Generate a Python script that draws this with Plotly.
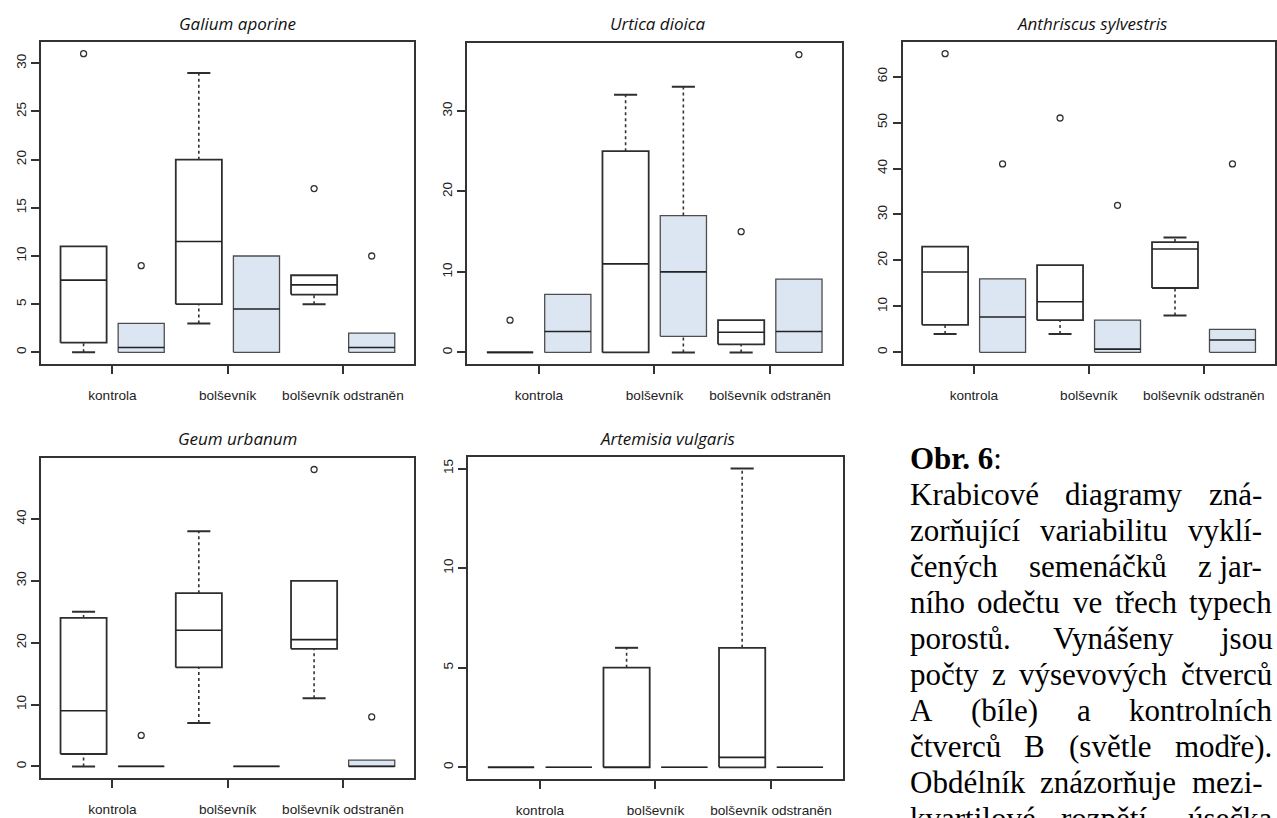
import plotly.graph_objects as go

FIG_W, FIG_H = 1277, 818

# ---------------- data ----------------
categories = ["kontrola", "bolševník", "bolševník odstraněn"]
species = ["Galium aporine", "Urtica dioica", "Anthriscus sylvestris",
           "Geum urbanum", "Artemisia vulgaris"]
# six boxes per panel: kontrola A, kontrola B, bolševník A, bolševník B, odstraněn A, odstraněn B
box_pos = [1, 2, 3, 4, 5, 6]
cat_pos = [1.5, 3.5, 5.5]
square_type = ["A", "B", "A", "B", "A", "B"]

galium_low = [0, 0, 3, 0, 5, 0]
galium_q1 = [1, 0, 5, 0, 6, 0]
galium_med = [7.5, 0.5, 11.5, 4.5, 7, 0.5]
galium_q3 = [11, 3, 20, 10, 8, 2]
galium_high = [11, 3, 29, 10, 8, 2]
galium_out = [[31], [9], [], [], [17], [10]]

urtica_low = [0, 0, 0, 0, 0, 0]
urtica_q1 = [0, 0, 0, 2, 1, 0]
urtica_med = [0, 2.6, 11, 10, 2.5, 2.6]
urtica_q3 = [0, 7.2, 25, 17, 4, 9.1]
urtica_high = [0, 7.2, 32, 33, 4, 9.1]
urtica_out = [[4], [], [], [], [15], [37]]

anthriscus_low = [4, 0, 4, 0, 8, 0]
anthriscus_q1 = [6, 0, 7, 0, 14, 0]
anthriscus_med = [17.5, 7.7, 11, 0.7, 22.5, 2.7]
anthriscus_q3 = [23, 16, 19, 7, 24, 5]
anthriscus_high = [23, 16, 19, 7, 25, 5]
anthriscus_out = [[65], [41], [51], [32], [], [41]]

geum_low = [0, 0, 7, 0, 11, 0]
geum_q1 = [2, 0, 16, 0, 19, 0]
geum_med = [9, 0, 22, 0, 20.5, 0]
geum_q3 = [24, 0, 28, 0, 30, 1]
geum_high = [25, 0, 38, 0, 30, 1]
geum_out = [[], [5], [], [], [48], [8]]

artemisia_low = [0, 0, 0, 0, 0, 0]
artemisia_q1 = [0, 0, 0, 0, 0, 0]
artemisia_med = [0, 0, 0, 0, 0.5, 0]
artemisia_q3 = [0, 0, 5, 0, 6, 0]
artemisia_high = [0, 0, 6, 0, 15, 0]
artemisia_out = [[], [], [], [], [], []]

y_tick_step = [5, 10, 10, 10, 5]

caption_head = "<b>Obr. 6</b>:"
caption_lines = [
    "Krabicové diagramy zná-",
    "zorňující variabilitu vyklí-",
    "čených semenáčků z\u00a0jar-",
    "ního odečtu ve třech typech",
    "porostů. Vynášeny jsou",
    "počty z výsevových čtverců",
    "A (bíle) a kontrolních",
    "čtverců B (světle modře).",
    "Obdélník znázorňuje mezi-",
    "kvartilové rozpětí, úsečka",
]

panels = [
    (galium_low, galium_q1, galium_med, galium_q3, galium_high, galium_out),
    (urtica_low, urtica_q1, urtica_med, urtica_q3, urtica_high, urtica_out),
    (anthriscus_low, anthriscus_q1, anthriscus_med, anthriscus_q3, anthriscus_high, anthriscus_out),
    (geum_low, geum_q1, geum_med, geum_q3, geum_high, geum_out),
    (artemisia_low, artemisia_q1, artemisia_med, artemisia_q3, artemisia_high, artemisia_out),
]

# ---------------- layout geometry (pixels) ----------------
frames = [  # x0, x1, y_top, y_bottom
    (41, 415, 42, 367),
    (468, 843, 43, 367),
    (904, 1277, 42, 367),
    (41, 415, 461, 784),
    (469, 844, 460, 785),
]
title_xy = [(238, 24), (659, 24), (1094, 24), (238, 442), (669, 442)]

FILL = {"A": "#ffffff", "B": "#dce6f2"}
EDGE = {"A": "#2e2e2e", "B": "#4d4d4d"}
EDGE_W = {"A": 1.8, "B": 1.3}
BOX_HALF = 0.4
STAPLE_HALF = 0.2

fig = go.Figure()


def px_x(p):
    return p / FIG_W


def px_y(p):
    return 1 - p / FIG_H


for k, (low, q1, med, q3, high, out) in enumerate(panels):
    sfx = "" if k == 0 else str(k + 1)
    xa, ya = "x" + sfx, "y" + sfx
    for i, pos in enumerate(box_pos):
        t = square_type[i]
        ec, ew = EDGE[t], EDGE_W[t]
        # box body
        fig.add_trace(go.Scatter(
            x=[pos - BOX_HALF, pos + BOX_HALF, pos + BOX_HALF, pos - BOX_HALF, pos - BOX_HALF],
            y=[q1[i], q1[i], q3[i], q3[i], q1[i]],
            mode="lines", fill="toself", fillcolor=FILL[t],
            line=dict(color=ec, width=ew), xaxis=xa, yaxis=ya,
            showlegend=False, hoverinfo="skip"))
        # median
        fig.add_trace(go.Scatter(
            x=[pos - BOX_HALF, pos + BOX_HALF], y=[med[i], med[i]],
            mode="lines", line=dict(color="#222222", width=1.6),
            xaxis=xa, yaxis=ya, showlegend=False, hoverinfo="skip"))
        # whiskers (dashed) and staples (solid)
        for lo, hi, st in ((q3[i], high[i], high[i]), (low[i], q1[i], low[i])):
            if hi > lo:
                fig.add_trace(go.Scatter(
                    x=[pos, pos], y=[lo, hi], mode="lines",
                    line=dict(color="#333333", width=1.6, dash="3px,3px"),
                    xaxis=xa, yaxis=ya, showlegend=False, hoverinfo="skip"))
                fig.add_trace(go.Scatter(
                    x=[pos - STAPLE_HALF, pos + STAPLE_HALF], y=[st, st], mode="lines",
                    line=dict(color="#2e2e2e", width=2),
                    xaxis=xa, yaxis=ya, showlegend=False, hoverinfo="skip"))
        # outliers
        if out[i]:
            fig.add_trace(go.Scatter(
                x=[pos] * len(out[i]), y=out[i], mode="markers",
                marker=dict(symbol="circle-open", size=6, color="#333333",
                            line=dict(width=1.3)),
                xaxis=xa, yaxis=ya, showlegend=False, hoverinfo="skip"))

    # axes (R-style range: data range extended by 4%)
    ymax = max(max(high), max([v for o in out for v in o], default=0))
    ymin = min(low)
    pad = 0.04 * (ymax - ymin)
    x0, x1, yt, yb = frames[k]
    n = len(box_pos)
    xr = [0.5 - 0.04 * n, n + 0.5 + 0.04 * n]
    axis_common = dict(showline=True, mirror=True, linecolor="#333333", linewidth=1.6,
                       showgrid=False, zeroline=False, ticks="outside", ticklen=8,
                       tickwidth=1.5, tickcolor="#333333",
                       tickfont=dict(family="Liberation Sans", size=13.6, color="#222222"))
    fig.update_layout(**{
        ("xaxis" + sfx): dict(domain=[px_x(x0), px_x(x1)], range=xr, anchor=ya,
                              tickmode="array", tickvals=cat_pos, ticktext=categories,
                              ticklabelstandoff=10, fixedrange=True, **axis_common),
        ("yaxis" + sfx): dict(domain=[px_y(yb), px_y(yt)], range=[ymin - pad, ymax + pad],
                              anchor=xa, tickmode="linear", tick0=0, dtick=y_tick_step[k],
                              tickangle=-90, ticklabelstandoff=0, fixedrange=True,
                              **axis_common),
    })

annotations = []
for k, name in enumerate(species):
    tx, ty = title_xy[k]
    annotations.append(dict(
        text="<i>" + name + "</i>", x=px_x(tx), y=px_y(ty), xref="paper", yref="paper",
        xanchor="center", yanchor="middle", showarrow=False,
        font=dict(family="Open Sans", size=17, color="#111111")))

# ---------------- caption (justified block) ----------------
CAP_FONT = 31
TIMES = {' ': 250, '\u00a0': 250, '(': 333, ')': 333, '.': 250, ':': 278, '-': 333,
         'A': 722, 'B': 667, 'K': 722, 'O': 722, 'V': 722,
         'a': 444, 'b': 500, 'c': 444, 'd': 500, 'e': 444, 'g': 500, 'h': 500,
         'i': 278, 'j': 278, 'k': 500, 'l': 278, 'm': 778, 'n': 500, 'o': 500,
         'p': 500, 'r': 333, 's': 389, 't': 278, 'u': 500, 'v': 500, 'y': 500,
         'z': 444, 'á': 444, 'é': 444, 'í': 278, 'ý': 500, 'č': 444, 'ě': 444,
         'ň': 500, 'ř': 333, 'š': 389, 'ů': 500, 'ú': 500}


def tw(word):
    return sum(TIMES.get(c, 500) for c in word) * CAP_FONT / 1000.0


CAP_LEFT = 909
CAP_RIGHT = 1272
CAP_RIGHT_HYPH = 1262
BASE0 = 472.5
LINE_STEP = 36.3
MID_OFF = 0.3375 * CAP_FONT

annotations.append(dict(
    text=caption_head, x=px_x(CAP_LEFT), y=px_y(BASE0 - MID_OFF), xref="paper", yref="paper",
    xanchor="left", yanchor="middle", showarrow=False,
    font=dict(family="Liberation Serif", size=CAP_FONT, color="#000000")))

for li, line in enumerate(caption_lines):
    base = BASE0 + LINE_STEP * (li + 1)
    words = line.split(" ")
    right = CAP_RIGHT_HYPH if line.endswith("-") else CAP_RIGHT
    total = sum(tw(w) for w in words)
    gap = (right - CAP_LEFT - total) / (len(words) - 1) if len(words) > 1 else 0
    xcur = CAP_LEFT
    for w in words:
        annotations.append(dict(
            text=w, x=px_x(xcur), y=px_y(base - MID_OFF), xref="paper", yref="paper",
            xanchor="left", yanchor="middle", showarrow=False,
            font=dict(family="Liberation Serif", size=CAP_FONT, color="#000000")))
        xcur += tw(w) + gap

fig.update_layout(
    width=FIG_W, height=FIG_H, margin=dict(l=0, r=0, t=0, b=0),
    paper_bgcolor="white", plot_bgcolor="white", showlegend=False,
    annotations=annotations,
)

fig.write_html("out.html", config={"displayModeBar": False})
